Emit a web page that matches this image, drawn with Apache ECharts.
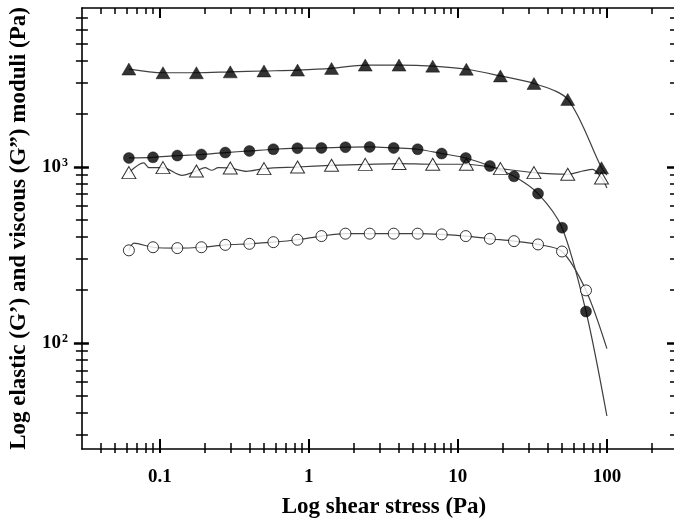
<!DOCTYPE html>
<html><head><meta charset="utf-8">
<script src="https://cdn.jsdelivr.net/npm/echarts@6/dist/echarts.min.js"></script>
<style>html,body{margin:0;padding:0;background:#fff;overflow:hidden}#c{width:684px;height:527px}</style>
</head><body><div id="c"></div>
<script>
// ---- data ----
const triX = [0.062,0.105,0.176,0.297,0.50,0.84,1.42,2.39,4.03,6.78,11.4,19.3,32.4,54.6,92];
const circX = [0.062,0.090,0.131,0.190,0.275,0.399,0.578,0.838,1.215,1.76,2.56,3.71,5.37,7.79,11.3,16.4,23.8,34.5,50.0,72.4];
const filledTriY = [3600,3430,3430,3470,3510,3550,3630,3790,3790,3740,3590,3290,2980,2420,990];
const openTriY = [929,992,949,987,979,1000,1022,1035,1046,1036,1036,979,929,909,866];
const filledCircY = [1125,1135,1161,1177,1208,1233,1261,1278,1283,1295,1300,1283,1261,1192,1125,1013,885,706,452,151];
const openCircY = [336,350,346,350,361,366,374,386,405,418,418,418,418,414,405,391,379,363,331,199];
// extra points of the fitted curves
const filledTriLineX = [100];
const filledTriLineY = [900];
const openTriLineX = [0.078,0.0845,0.141,0.201,0.223,0.247,0.382,68.8,80.2,100];
const openTriLineY = [1054,992,897,992,958,992,945,949,970,760];
const filledCircLineX = [100];
const filledCircLineY = [38.5];
const openCircLineX = [0.0671,100];
const openCircLineY = [369,93];
// axes
const xMajor = [0.1,1,10,100];
const xMajorLabels = ['0.1','1','10','100'];
const xMinor = [0.04,0.05,0.06,0.07,0.08,0.09,0.2,0.3,0.4,0.5,0.6,0.7,0.8,0.9,2,3,4,5,6,7,8,9,20,30,40,50,60,70,80,90,200];
const yMajor = [100,1000];
const yMajorExp = ['2','3'];
const yMinor = [30,40,50,60,70,80,90,200,300,400,500,600,700,800,900,2000,3000,4000,5000,6000,7000];
const X_MIN = 0.03, X_MAX = 300, Y_MIN = 25, Y_MAX = 8000;
const xTitle = 'Log shear stress (Pa)';
const yTitle = 'Log elastic (G\u2019) and viscous (G\u201D) moduli (Pa)';

const FONT = '"Liberation Serif","Times New Roman",serif';

function pairs(xs, ys){ return xs.map((x,i)=>[x, ys[i]]); }
function linePts(xs, ys, ex, ey){
  return pairs(xs, ys).concat(pairs(ex, ey)).sort((a,b)=>a[0]-b[0]);
}
function nearestIdx(arr, v){
  let best=0, bd=Infinity;
  arr.forEach((a,i)=>{ const d=Math.abs(Math.log(a)-Math.log(v)); if(d<bd){bd=d;best=i;} });
  return best;
}

function axis(kind, pos, vals, inside, len, w, showLine, label){
  const o = {
    type:'log', logBase:10, position:pos, offset:0, gridIndex:0,
    min: kind==='x'?X_MIN:Y_MIN, max: kind==='x'?X_MAX:Y_MAX,
    axisLine:{show:showLine, onZero:false, lineStyle:{color:'#000', width:1.6}},
    axisTick:{show:true, customValues:vals, inside:inside, length:len, lineStyle:{color:'#000', width:w}},
    minorTick:{show:false},
    splitLine:{show:false},
    axisLabel:{show:false}
  };
  if (label) o.axisLabel = label;
  return o;
}

const xLabel = {
  show:true, customValues:xMajor, margin:19,
  fontFamily:FONT, fontWeight:'bold', fontSize:19, color:'#000',
  formatter:(v)=>xMajorLabels[nearestIdx(xMajor, v)]
};
const yLabel = {
  show:true, customValues:yMajor, margin:14,
  formatter:(v)=>'{b|10}{s|'+yMajorExp[nearestIdx(yMajor, v)]+'}',
  rich:{
    b:{fontFamily:FONT, fontWeight:'bold', fontSize:19, color:'#000', lineHeight:20},
    s:{fontFamily:FONT, fontWeight:'bold', fontSize:12, color:'#000', verticalAlign:'top', lineHeight:20, padding:[0,0,9,1]}
  }
};

const xAxes = [
  axis('x','bottom',xMajor,false,4,2,true,xLabel),
  axis('x','bottom',xMajor,true,10,2,false),
  axis('x','bottom',xMinor,false,4,1.5,false),
  axis('x','bottom',xMinor,true,6,1.5,false),
  axis('x','top',xMajor,true,10,2,true),
  axis('x','top',xMinor,true,6,1.5,false)
];
xAxes[0].name = xTitle;
xAxes[0].nameLocation = 'middle';
xAxes[0].nameGap = 47;
xAxes[0].nameTextStyle = {fontFamily:FONT, fontWeight:'bold', fontSize:23, color:'#000', padding:[0,0,0,8]};

const yAxes = [
  axis('y','left',yMajor,false,8,2.5,true,yLabel),
  axis('y','left',yMajor,true,7,2.5,false),
  axis('y','left',yMinor,false,6,1.5,false),
  axis('y','left',yMinor,true,6,1.5,false),
  axis('y','right',yMajor,true,11,2.5,true),
  axis('y','right',yMinor,true,8,1.5,false)
];
yAxes[0].name = yTitle;
yAxes[0].nameLocation = 'middle';
yAxes[0].nameGap = 49;
yAxes[0].nameTextStyle = {fontFamily:FONT, fontWeight:'bold', fontSize:23, color:'#000'};

const LINE = {color:'#404040', width:1.2};
function lineSeries(data){
  return {type:'line', data:data, smooth:0.3, showSymbol:false, symbol:'none',
    lineStyle:LINE, xAxisIndex:0, yAxisIndex:0, z:2, silent:true};
}
function scatterSeries(data, symbol, size, filled){
  return {type:'scatter', data:data, symbol:symbol, symbolSize:size, xAxisIndex:0, yAxisIndex:0, z:3,
    itemStyle: filled ? {color:'#000', borderColor:'#000', borderWidth:0.5}
                      : {color:'#fff', borderColor:'#000', borderWidth:1}};
}

const chart = echarts.init(document.getElementById('c'), null, {renderer:'canvas'});
chart.setOption({
  animation:false,
  backgroundColor:'#fff',
  grid:{left:80, top:8, width:598, height:441, containLabel:false},
  xAxis:xAxes,
  yAxis:yAxes,
  series:[
    lineSeries(linePts(triX, filledTriY, filledTriLineX, filledTriLineY)),
    lineSeries(linePts(triX, openTriY, openTriLineX, openTriLineY)),
    lineSeries(linePts(circX, filledCircY, filledCircLineX, filledCircLineY)),
    lineSeries(linePts(circX, openCircY, openCircLineX, openCircLineY)),
    scatterSeries(pairs(triX, openTriY), 'triangle', [14,12], false),
    scatterSeries(pairs(circX, openCircY), 'circle', 11, false),
    scatterSeries(pairs(circX, filledCircY), 'circle', 11, true),
    scatterSeries(pairs(triX, filledTriY), 'triangle', [14,12], true)
  ]
});
</script></body></html>
